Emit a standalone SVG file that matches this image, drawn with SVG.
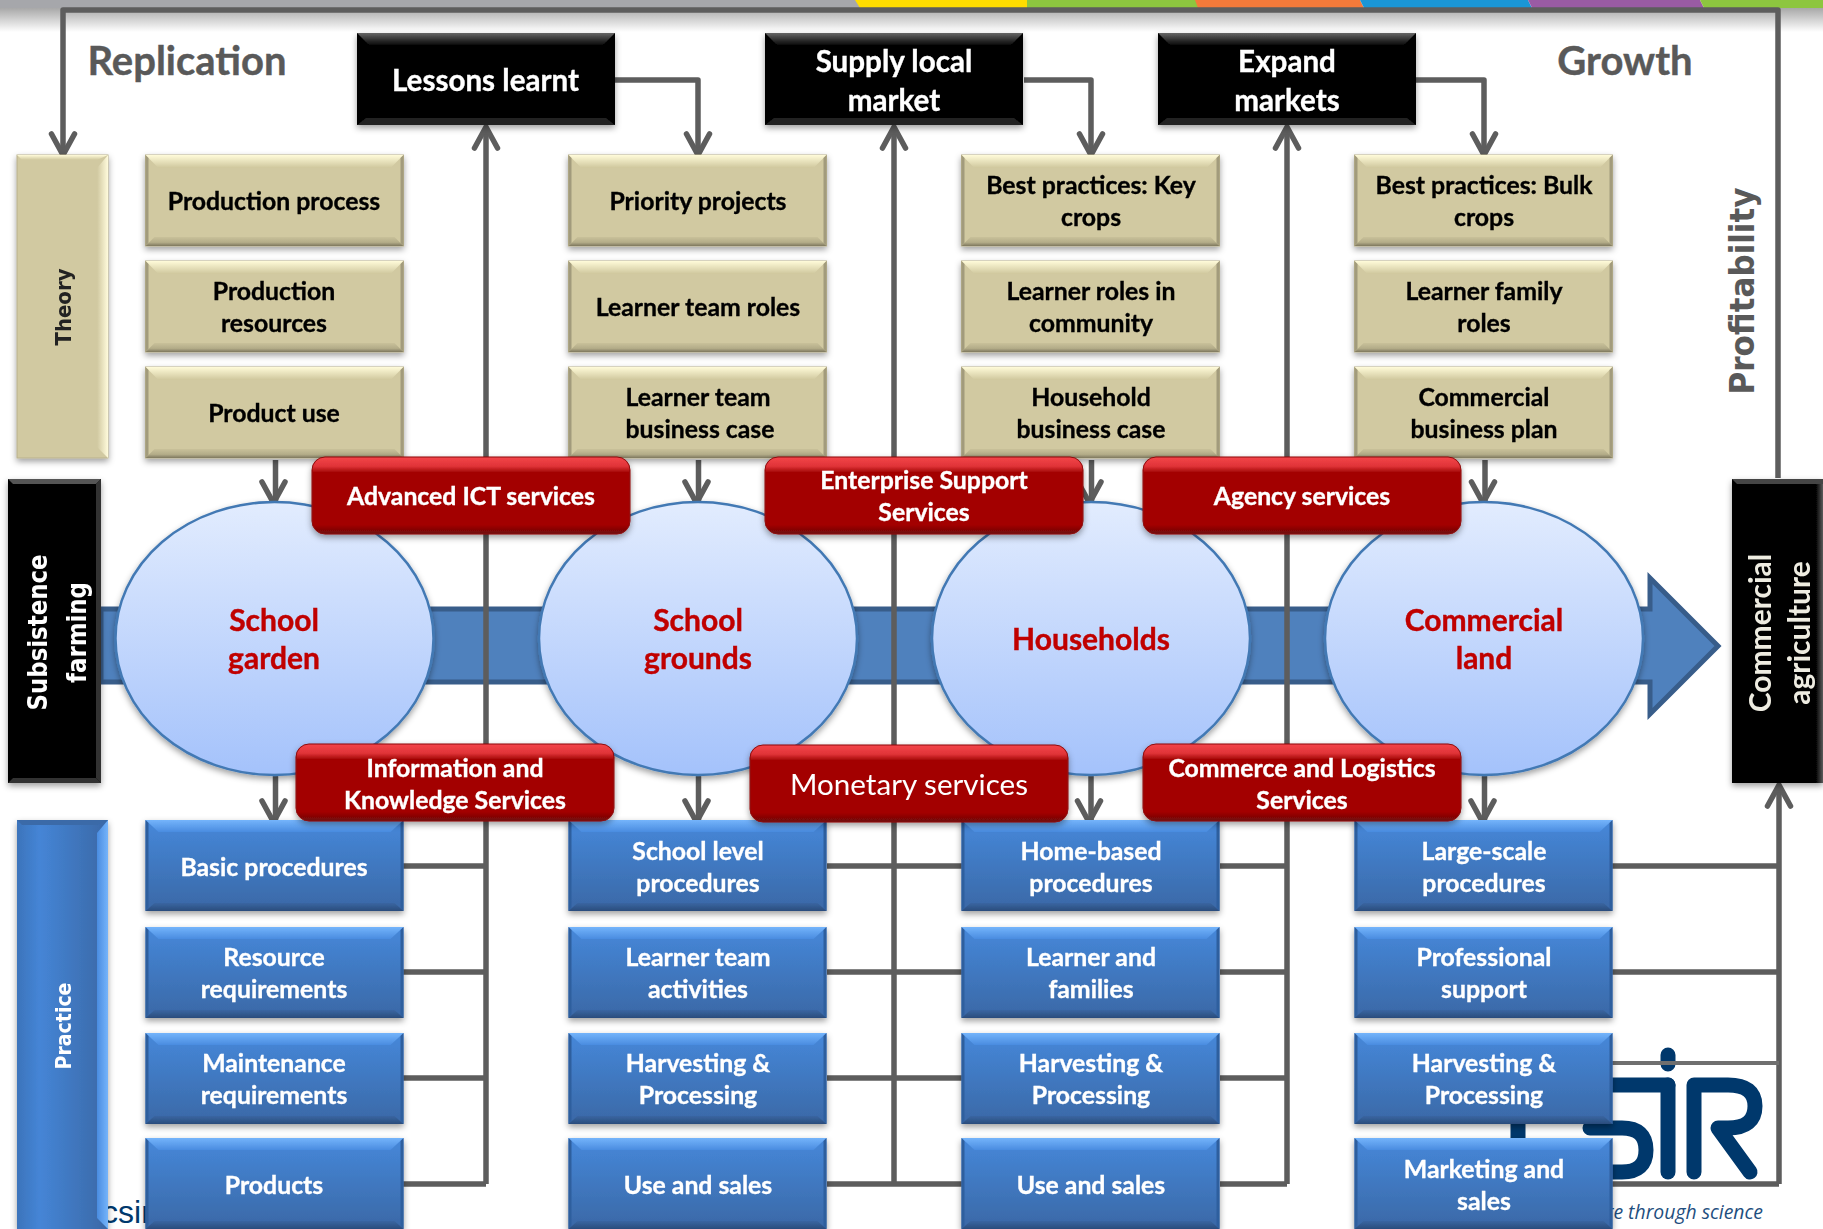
<svg xmlns="http://www.w3.org/2000/svg" width="1823" height="1229" viewBox="0 0 1823 1229">
<style>
text{font-family:"Lato","Noto Sans","Liberation Sans",sans-serif;font-weight:700;text-anchor:middle}
.n{font-size:24.8px}
.t{fill:#000;stroke:#000;stroke-width:.35}
.w{fill:#fff;stroke:#fff;stroke-width:.35}
.k{font-size:29.6px}
.h{fill:#595959;font-size:40px;stroke:#595959;stroke-width:.4}
.dv{font-family:"DejaVu Sans","Liberation Sans",sans-serif;stroke:none}
.em{font-size:30px;fill:#c00000;stroke:#c00000;stroke-width:.4}
.lnk{fill:none;stroke:#5d5d5d;stroke-width:5.5;stroke-linejoin:round}
.arr{marker-end:url(#head)}
.sm{marker-end:url(#head2)}
.navy{fill:none;stroke:#00386c;stroke-width:15;stroke-linecap:round;stroke-linejoin:round}
</style>
<defs>
<linearGradient id="gTop" x1="0" y1="0" x2="0" y2="1"><stop offset="0" stop-color="#a8a8a8"/><stop offset="1" stop-color="#fff"/></linearGradient>
<linearGradient id="gE" x1="0" y1="0" x2="0" y2="1"><stop offset="0" stop-color="#e2ecfe"/><stop offset="1" stop-color="#a4c2fb"/></linearGradient>
<linearGradient id="gTan" x1="0" y1="0" x2="0" y2="1"><stop offset="0" stop-color="#fffbd9"/><stop offset="1" stop-color="#cfc79d"/></linearGradient>
<linearGradient id="gTanB" x1="0" y1="0" x2="0" y2="1"><stop offset="0" stop-color="#c9c19a"/><stop offset=".6" stop-color="#b3ac88"/><stop offset="1" stop-color="#7e785e"/></linearGradient>
<linearGradient id="gTanR" x1="0" y1="0" x2="1" y2="0"><stop offset="0" stop-color="#d0c8a0"/><stop offset="1" stop-color="#fffbdc"/></linearGradient>
<linearGradient id="gBl" x1="0" y1="0" x2="0" y2="1"><stop offset="0" stop-color="#4688da"/><stop offset="1" stop-color="#3a68a6"/></linearGradient>
<linearGradient id="gBlB" x1="0" y1="0" x2="0" y2="1"><stop offset="0" stop-color="#3a66a2"/><stop offset="1" stop-color="#2a4c7c"/></linearGradient>
<linearGradient id="gBlH" x1="0" y1="0" x2="1" y2="0"><stop offset="0" stop-color="#3c74bb"/><stop offset=".25" stop-color="#4585d6"/><stop offset="1" stop-color="#3a68a6"/></linearGradient>
<linearGradient id="gBlT" x1="0" y1="0" x2="0" y2="1"><stop offset="0" stop-color="#74b4fb"/><stop offset="1" stop-color="#4a8ce0"/></linearGradient>
<linearGradient id="gBlR" x1="0" y1="0" x2="1" y2="0"><stop offset="0" stop-color="#4a8ce0"/><stop offset="1" stop-color="#74b4fb"/></linearGradient>
<linearGradient id="gBk" x1="0" y1="0" x2="0" y2="1"><stop offset="0" stop-color="#666"/><stop offset="1" stop-color="#000"/></linearGradient>
<linearGradient id="gBkR" x1="0" y1="0" x2="1" y2="0"><stop offset="0" stop-color="#000"/><stop offset="1" stop-color="#5c5c5c"/></linearGradient>
<linearGradient id="gRd" x1="0" y1="0" x2="0" y2="1"><stop offset="0" stop-color="#f4464a"/><stop offset=".12" stop-color="#e03338"/><stop offset=".2" stop-color="#a30404"/><stop offset=".88" stop-color="#a30404"/><stop offset="1" stop-color="#6d0808"/></linearGradient>
<filter id="sh" x="-10%" y="-10%" width="120%" height="125%"><feDropShadow dx="0" dy="3" stdDeviation="3" flood-color="#000" flood-opacity=".38"/></filter>
<marker id="head" markerUnits="userSpaceOnUse" markerWidth="34" markerHeight="34" refX="27" refY="15" orient="auto" viewBox="0 0 34 34"><path d="M6,3.5 L27,15 L6,26.5" fill="none" stroke="#5d5d5d" stroke-width="5.5" stroke-linecap="round" stroke-linejoin="miter"/></marker>
<marker id="head2" markerUnits="userSpaceOnUse" markerWidth="34" markerHeight="34" refX="27" refY="13" orient="auto" viewBox="0 0 34 34"><path d="M6,3.5 L27,15 L6,26.5" fill="none" stroke="#5d5d5d" stroke-width="5.5" stroke-linecap="round" stroke-linejoin="miter"/></marker>
<g id="tan"><rect width="258" height="91" fill="#d1c9a1" stroke="#b8b08c" stroke-width="1"/><polygon points="0,0 258,0 245,13 13,13" fill="url(#gTan)"/><polygon points="0,91 258,91 249,82 9,82" fill="url(#gTanB)"/><polygon points="0,0 3,3 3,88 0,91" fill="#a29b7c"/><polygon points="258,0 255,3 255,88 258,91" fill="#a29b7c"/></g>
<g id="blu"><rect width="258" height="91" fill="url(#gBl)"/><polygon points="0,0 258,0 245,12 13,12" fill="url(#gBlT)"/><polygon points="0,91 258,91 249,83 9,83" fill="url(#gBlB)"/><polygon points="0,0 3,3 3,88 0,91" fill="#2f5f9e"/><polygon points="258,0 255,3 255,88 258,91" fill="#2f5f9e"/></g>
<g id="blk"><rect width="258" height="92" fill="#000"/><polygon points="0,0 258,0 245,13 13,13" fill="url(#gBk)"/><polygon points="0,92 258,92 249,85 9,85" fill="#222"/></g>
<rect id="red" width="318" height="77" rx="13" fill="url(#gRd)" stroke="#8c0a0a" stroke-width="1"/>
<ellipse id="ell" rx="159" ry="136.5" fill="url(#gE)" stroke="#4379b4" stroke-width="2.5"/>
</defs>
<rect width="1823" height="1229" fill="#fff"/>
<g id="banner">
<rect y="8" width="1823" height="24" fill="url(#gTop)"/>
<rect width="860" height="8" fill="#a6a7ab"/>
<polygon points="855,0 1030,0 1027,8 860,8" fill="#ffdd00"/>
<polygon points="1027,0 1197,0 1200,8 1027,8" fill="#8dc63f"/>
<polygon points="1195,0 1360,0 1364,8 1198,8" fill="#f47a3a"/>
<polygon points="1360,0 1528,0 1532,8 1364,8" fill="#1a96d6"/>
<polygon points="1528,0 1700,0 1704,8 1532,8" fill="#9a5ba4"/>
<polygon points="1700,0 1823,0 1823,8 1704,8" fill="#8dc63f"/>
</g>
<g id="logo">
<text x="127" y="1223" style="font-family:'Liberation Sans',sans-serif;font-weight:400;font-size:32px;fill:#00386c">csir</text>
<path class="navy" d="M1518,1120 V1145"/>
<path class="navy" d="M1600,1085 H1668 M1668,1055 V1064"/>
<path class="navy" d="M1668,1085 V1172"/>
<path class="navy" d="M1694,1172 V1085 H1728 Q1755,1085 1755,1106 Q1755,1128 1728,1128 H1718 L1750,1172"/>
<path class="navy" d="M1590,1128 H1622 Q1646,1128 1646,1150 Q1646,1172 1622,1172 H1600"/>
<text x="1763" y="1219" style="text-anchor:end;font-style:italic;font-weight:400;font-size:19.4px;fill:#1f4f80;font-family:'Open Sans',sans-serif">re through science</text>
</g>
<g id="flow">
<path d="M101,609 H1650 V578 L1718,646 L1650,714 V682 H101 Z" fill="#4f81bd" stroke="#385d8a" stroke-width="5"/>
</g>
<g id="connectors">
<path class="lnk arr" d="M1778,478 V10 H63 V155"/>
<path class="lnk arr" d="M614,80 H698 V155"/>
<path class="lnk arr" d="M1024,80 H1091 V155"/>
<path class="lnk arr" d="M1416,80 H1484 V155"/>
<path class="lnk arr" d="M486,458 V127"/>
<path class="lnk arr" d="M894,458 V127"/>
<path class="lnk arr" d="M1287,458 V127"/>
<path class="lnk" d="M486,457 V1184"/>
<path class="lnk" d="M894,457 V1184"/>
<path class="lnk" d="M1287,457 V1184"/>
<path class="lnk arr" d="M1779,1184 V785"/>
<path class="lnk" d="M403,866 H486 M403,972 H486 M403,1078 H486 M403,1184 H486"/>
<path class="lnk" d="M827,866 H962 M827,972 H962 M827,1078 H962 M827,1184 H962"/>
<path class="lnk" d="M1220,866 H1287 M1220,972 H1287 M1220,1078 H1287 M1220,1184 H1287"/>
<path class="lnk" d="M1612,866 H1779 M1612,972 H1779 M1612,1184 H1779"/>
<path d="M1612,1063 H1779" fill="none" stroke="#6f6f6f" stroke-width="4"/>
<path class="lnk sm" d="M275.5,460 V503"/><path class="lnk sm" d="M698.5,460 V503"/><path class="lnk sm" d="M1091.5,460 V503"/><path class="lnk sm" d="M1485,460 V503"/>
<path class="lnk sm" d="M275.5,776 V822"/><path class="lnk sm" d="M698.5,776 V822"/><path class="lnk sm" d="M1091,776 V822"/><path class="lnk sm" d="M1484.5,776 V822"/>
</g>
<text class="h" x="187" y="75">Replication</text>
<text class="h" x="1625" y="75">Growth</text>
<text class="dv" transform="translate(1754,291) rotate(-90)" textLength="207" lengthAdjust="spacingAndGlyphs" style="fill:#595959;font-size:34px">Profitability</text>
<g id="theory-bar" filter="url(#sh)"><rect x="17" y="155" width="91" height="303" fill="#d1c9a1" stroke="#b8b08c"/><polygon points="108,155 97,168 97,447 108,458" fill="url(#gTanR)"/><polygon points="17,155 108,155 97,160 22,160" fill="url(#gTan)"/><text class="dv" transform="translate(71,307) rotate(-90)" textLength="77" lengthAdjust="spacingAndGlyphs" style="font-size:22px;fill:#222">Theory</text></g>
<g id="practice-bar" filter="url(#sh)"><rect x="17" y="820" width="91" height="409" fill="url(#gBlH)"/><polygon points="108,820 97,833 97,1218 108,1229" fill="url(#gBlR)"/><polygon points="17,820 108,820 97,825 22,825" fill="#3a6aa8"/><text class="dv w" transform="translate(71,1026) rotate(-90)" textLength="87" lengthAdjust="spacingAndGlyphs" style="font-size:22px">Practice</text></g>
<g id="subsistence" filter="url(#sh)"><rect x="8" y="479" width="93" height="304" fill="#000"/><polygon points="8,479 101,479 96,484 13,484" fill="#555"/><polygon points="101,479 96,484 96,778 101,783" fill="#333"/><polygon points="8,783 101,783 96,778 13,778" fill="#333"/><text class="dv w" transform="translate(47,632.5) rotate(-90)" textLength="156" lengthAdjust="spacingAndGlyphs" style="font-size:26px">Subsistence</text><text class="dv w" transform="translate(86,632.5) rotate(-90)" textLength="101" lengthAdjust="spacingAndGlyphs" style="font-size:26px">farming</text></g>
<g id="commercial-agri" filter="url(#sh)"><rect x="1732" y="479" width="91" height="304" fill="#000"/><rect x="1816" y="479" width="7" height="304" fill="url(#gBkR)"/><polygon points="1732,479 1823,479 1823,484 1737,484" fill="#444"/><text transform="translate(1771,633) rotate(-90)" style="font-size:30px;fill:#eeece1">Commercial</text><text transform="translate(1810,633) rotate(-90)" style="font-size:30px;fill:#eeece1">agriculture</text></g>
<g id="lessons" filter="url(#sh)"><use href="#blk" x="357" y="33"/><text class="w k" x="485.5" y="91">Lessons learnt</text></g>
<g id="supply" filter="url(#sh)"><use href="#blk" x="765" y="33"/><text class="w k" x="894" y="72">Supply local</text><text class="w k" x="894" y="111">market</text></g>
<g id="expand" filter="url(#sh)"><use href="#blk" x="1158" y="33"/><text class="w k" x="1287" y="72">Expand</text><text class="w k" x="1287" y="111">markets</text></g>
<g id="ell1" filter="url(#sh)"><use href="#ell" x="274.5" y="638.5"/><text class="em" x="274" y="631">School</text><text class="em" x="274" y="669">garden</text></g>
<g id="ell2" filter="url(#sh)"><use href="#ell" x="698" y="638.5"/><text class="em" x="698" y="631">School</text><text class="em" x="698" y="669">grounds</text></g>
<g id="ell3" filter="url(#sh)"><use href="#ell" x="1091" y="638.5"/><text class="em" x="1091" y="650">Households</text></g>
<g id="ell4" filter="url(#sh)"><use href="#ell" x="1484" y="638.5"/><text class="em" x="1484" y="631">Commercial</text><text class="em" x="1484" y="669">land</text></g>
<g filter="url(#sh)">
<g id="t11"><use href="#tan" x="145.5" y="155"/><text class="n t" x="274" y="210">Production process</text></g>
<g id="t12"><use href="#tan" x="145.5" y="261"/><text class="n t" x="274" y="300">Production</text><text class="n t" x="274" y="332">resources</text></g>
<g id="t13"><use href="#tan" x="145.5" y="367"/><text class="n t" x="274" y="422">Product use</text></g>
<g id="t21"><use href="#tan" x="568.5" y="155"/><text class="n t" x="698" y="210">Priority projects</text></g>
<g id="t22"><use href="#tan" x="568.5" y="261"/><text class="n t" x="698" y="316">Learner team roles</text></g>
<g id="t23"><use href="#tan" x="568.5" y="367"/><text class="n t" x="698" y="406">Learner team</text><text class="n t" x="700" y="438">business case</text></g>
<g id="t31"><use href="#tan" x="961.5" y="155"/><text class="n t" x="1091" y="194">Best practices: Key</text><text class="n t" x="1091" y="226">crops</text></g>
<g id="t32"><use href="#tan" x="961.5" y="261"/><text class="n t" x="1091" y="300">Learner roles in</text><text class="n t" x="1091" y="332">community</text></g>
<g id="t33"><use href="#tan" x="961.5" y="367"/><text class="n t" x="1091" y="406">Household</text><text class="n t" x="1091" y="438">business case</text></g>
<g id="t41"><use href="#tan" x="1354.5" y="155"/><text class="n t" x="1484" y="194">Best practices: Bulk</text><text class="n t" x="1484" y="226">crops</text></g>
<g id="t42"><use href="#tan" x="1354.5" y="261"/><text class="n t" x="1484" y="300">Learner family</text><text class="n t" x="1484" y="332">roles</text></g>
<g id="t43"><use href="#tan" x="1354.5" y="367"/><text class="n t" x="1484" y="406">Commercial</text><text class="n t" x="1484" y="438">business plan</text></g>
<g id="p11"><use href="#blu" x="145.5" y="820"/><text class="n w" x="274" y="876">Basic procedures</text></g>
<g id="p12"><use href="#blu" x="145.5" y="927"/><text class="n w" x="274" y="966">Resource</text><text class="n w" x="274" y="998">requirements</text></g>
<g id="p13"><use href="#blu" x="145.5" y="1033"/><text class="n w" x="274" y="1072">Maintenance</text><text class="n w" x="274" y="1104">requirements</text></g>
<g id="p14"><use href="#blu" x="145.5" y="1138"/><text class="n w" x="274" y="1194">Products</text></g>
<g id="p21"><use href="#blu" x="568.5" y="820"/><text class="n w" x="698" y="860">School level</text><text class="n w" x="698" y="892">procedures</text></g>
<g id="p22"><use href="#blu" x="568.5" y="927"/><text class="n w" x="698" y="966">Learner team</text><text class="n w" x="698" y="998">activities</text></g>
<g id="p23"><use href="#blu" x="568.5" y="1033"/><text class="n w" x="698" y="1072">Harvesting &amp;</text><text class="n w" x="698" y="1104">Processing</text></g>
<g id="p24"><use href="#blu" x="568.5" y="1138"/><text class="n w" x="698" y="1194">Use and sales</text></g>
<g id="p31"><use href="#blu" x="961.5" y="820"/><text class="n w" x="1091" y="860">Home-based</text><text class="n w" x="1091" y="892">procedures</text></g>
<g id="p32"><use href="#blu" x="961.5" y="927"/><text class="n w" x="1091" y="966">Learner and</text><text class="n w" x="1091" y="998">families</text></g>
<g id="p33"><use href="#blu" x="961.5" y="1033"/><text class="n w" x="1091" y="1072">Harvesting &amp;</text><text class="n w" x="1091" y="1104">Processing</text></g>
<g id="p34"><use href="#blu" x="961.5" y="1138"/><text class="n w" x="1091" y="1194">Use and sales</text></g>
<g id="p41"><use href="#blu" x="1354.5" y="820"/><text class="n w" x="1484" y="860">Large-scale</text><text class="n w" x="1484" y="892">procedures</text></g>
<g id="p42"><use href="#blu" x="1354.5" y="927"/><text class="n w" x="1484" y="966">Professional</text><text class="n w" x="1484" y="998">support</text></g>
<g id="p43"><use href="#blu" x="1354.5" y="1033"/><text class="n w" x="1484" y="1072">Harvesting &amp;</text><text class="n w" x="1484" y="1104">Processing</text></g>
<g id="p44"><use href="#blu" x="1354.5" y="1138"/><text class="n w" x="1484" y="1178">Marketing and</text><text class="n w" x="1484" y="1210">sales</text></g>
</g>
<g filter="url(#sh)">
<g id="r1"><use href="#red" x="312" y="457"/><text class="n w" x="471" y="505">Advanced ICT services</text></g>
<g id="r2"><use href="#red" x="765" y="457"/><text class="n w" x="924" y="489">Enterprise Support</text><text class="n w" x="924" y="521">Services</text></g>
<g id="r3"><use href="#red" x="1143" y="457"/><text class="n w" x="1302" y="505">Agency services</text></g>
<g id="r4"><use href="#red" x="296" y="744"/><text class="n w" x="455" y="777">Information and</text><text class="n w" x="455" y="809">Knowledge Services</text></g>
<g id="r5"><use href="#red" x="750" y="745"/><text x="909" y="795" style="fill:#fff;font-size:29.6px;font-weight:400">Monetary services</text></g>
<g id="r6"><use href="#red" x="1143" y="744"/><text class="n w" x="1302" y="777">Commerce and Logistics</text><text class="n w" x="1302" y="809">Services</text></g>
</g>
</svg>
